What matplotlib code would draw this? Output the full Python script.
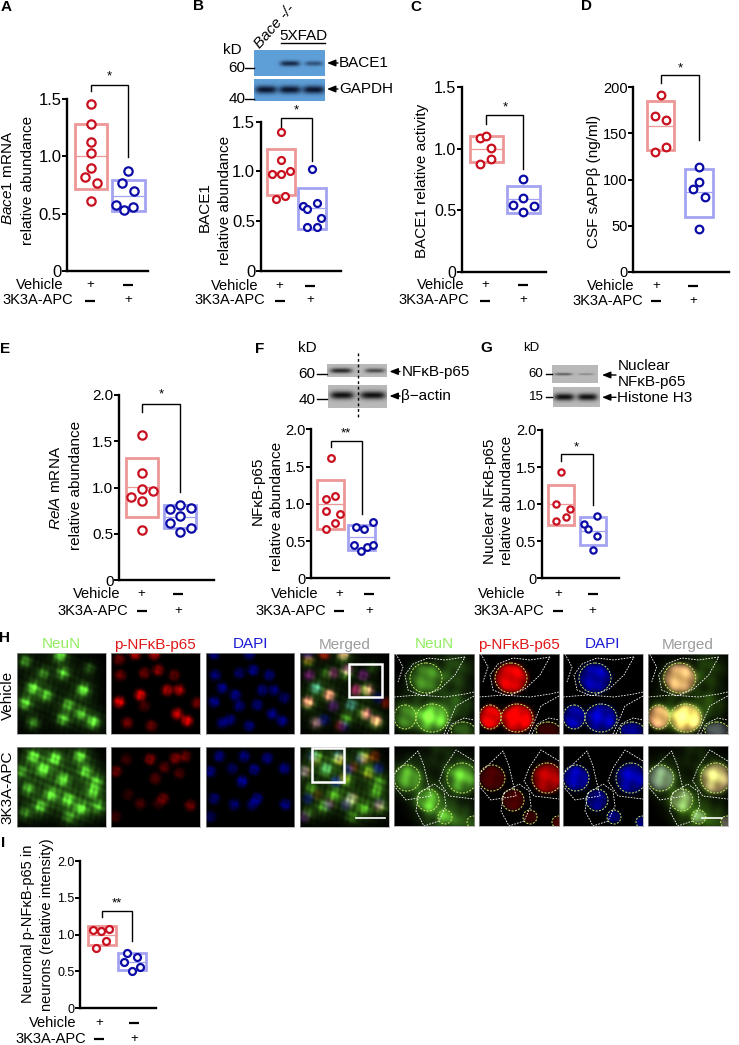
import numpy as np
import matplotlib
matplotlib.use("Agg")
import matplotlib.pyplot as plt
from matplotlib.colors import LinearSegmentedColormap
from matplotlib.patches import Rectangle, Ellipse

plt.rcParams["font.family"] = ["Liberation Sans", "DejaVu Sans"]
plt.rcParams["mathtext.fontset"] = "custom"
plt.rcParams["mathtext.rm"] = "Liberation Sans"
plt.rcParams["mathtext.it"] = "Liberation Sans:italic"

W, H = 739, 1045
RED, BLUE = "#c9101f", "#0b0ba6"
RED_BOX, BLUE_BOX = "#ee9797", "#a3a3f2"

# values: points, jitter (in group spacings), box (top, bottom, mean)
a_veh = [1.45, 1.277, 1.126, 1.024, 0.90, 0.82, 0.763, 0.61]
a_veh_off = [0, 0, 0, 0, 0, -0.15, 0.15, 0]
a_apc = [0.87, 0.77, 0.70, 0.574, 0.53, 0.56]
a_apc_off = [0, -0.16, 0.15, -0.33, -0.11, 0.12]
a_box = [(1.28, 0.71, 1.0), (0.79, 0.525, 0.653)]

b_veh = [1.40, 1.118, 0.978, 0.978, 1.0, 0.757, 0.723]
b_veh_off = [0, 0, -0.28, 0, 0.28, 0.14, -0.15]
b_apc = [1.028, 0.686, 0.656, 0.623, 0.536, 0.439, 0.442]
b_apc_off = [0, 0.16, -0.29, -0.14, 0.30, -0.14, 0.16]
b_box = [(1.225, 0.763, 0.998), (0.834, 0.425, 0.633)]

c_veh = [1.088, 1.104, 1.009, 0.914, 0.879]
c_veh_off = [-0.16, 0, 0.14, 0.14, -0.16]
c_apc = [0.757, 0.597, 0.545, 0.537, 0.486]
c_apc_off = [0, 0, -0.28, 0.28, 0]
c_box = [(1.104, 0.89, 0.998), (0.697, 0.477, 0.589)]

d_veh = [192, 169, 165, 135, 129.5]
d_veh_off = [0, -0.16, 0.14, 0.14, -0.16]
d_apc = [114, 97, 90, 81, 46]
d_apc_off = [0, 0, -0.16, 0.15, 0]
d_box = [(185, 131.6, 158.4), (111.4, 59.7, 86)]

e_veh = [1.568, 1.153, 0.987, 0.966, 0.897, 0.858, 0.541]
e_veh_off = [0, 0, 0, 0.28, -0.28, 0, 0]
e_apc = [0.81, 0.771, 0.778, 0.692, 0.616, 0.566, 0.519]
e_apc_off = [0, -0.26, 0.27, 0, -0.26, 0.27, 0]
e_box = [(1.315, 0.678, 1.002), (0.807, 0.559, 0.677)]

f_veh = [1.615, 1.11, 1.07, 0.904, 0.859, 0.738, 0.658]
f_veh_off = [0, 0.15, -0.14, -0.14, 0.29, 0.15, -0.14]
f_apc = [0.693, 0.658, 0.76, 0.447, 0.371, 0.416, 0.443]
f_apc_off = [-0.19, 0.08, 0.35, -0.25, -0.03, 0.18, 0.38]
f_box = [(1.32, 0.667, 0.993), (0.716, 0.376, 0.55)]

g_veh = [1.438, 0.998, 0.935, 0.827, 0.773]
g_veh_off = [0, -0.14, 0.28, 0.15, -0.14]
g_apc = [0.845, 0.733, 0.67, 0.566, 0.382]
g_apc_off = [0.14, -0.28, -0.15, 0.14, 0]
g_box = [(1.263, 0.724, 0.998), (0.822, 0.454, 0.643)]

i_veh = [1.068, 1.05, 1.081, 0.919, 0.814]
i_veh_off = [-0.29, -0.02, 0.23, 0.14, -0.2]
i_apc = [0.747, 0.701, 0.624, 0.561, 0.511]
i_apc_off = [-0.18, 0.18, -0.26, 0.26, 0]
i_box = [(1.122, 0.86, 0.991), (0.747, 0.52, 0.629)]

ticks_15 = [0, 0.5, 1.0, 1.5]
ticks_20 = [0, 0.5, 1.0, 1.5, 2.0]
ticks_200 = [0, 50, 100, 150, 200]
labels_15 = ["0", "0.5", "1.0", "1.5"]
labels_20 = ["0", "0.5", "1.0", "1.5", "2.0"]
labels_200 = ["0", "50", "100", "150", "200"]

# micrograph cells (u, v, amount) in panel pixels
veh_neun = [(43, 2, .9), (8, 8, .55), (26, 20, .45), (46, 20, .75), (16, 35, .95), (29, 42, .75), (66, 37, 1),
            (8, 50, .85), (51, 52, .65), (64, 61, .7), (76, 69, 1), (46, 66, .75), (16, 70, .5), (72, 15, .3)]
veh_red = [(8, 6, .45), (24, 1, .75), (43, 1, .75), (9, 22, .45), (33, 20, .45), (47, 17, .6), (63, 22, .4),
           (56, 37, .75), (68, 37, .75), (29, 42, 1), (8, 49, 1), (33, 53, .3), (66, 61, .9), (76, 68, 1),
           (16, 70, .5), (40, 73, .45), (86, 50, .5)]
veh_blue = [(8, 1, .6), (43, 1, .6), (9, 22, .6), (33, 20, .5), (47, 17, .7), (63, 22, .6), (16, 35, .7),
            (56, 37, .6), (68, 37, .6), (29, 42, .7), (8, 49, .7), (33, 53, .6), (51, 52, .6), (78, 45, .5),
            (66, 61, .7), (76, 68, .7), (16, 70, .6), (24, 67, .6), (43, 73, .6)]
apc_neun = [(16, 10, .85), (38, 12, .9), (63, 10, .8), (26, 23, .9), (46, 33, .8), (68, 25, .7), (79, 35, .6),
            (11, 42, .6), (34, 48, .8), (51, 53, .8), (76, 45, .7), (23, 60, .7), (81, 60, .6), (64, 62, .8),
            (4, 25, .5), (8, 66, .4), (52, 70, .45)]
apc_red = [(5, 25, .45), (15, 13, .25), (39, 13, .55), (64, 12, .55), (74, 10, .45), (53, 21, .35), (68, 27, .3),
           (44, 32, .35), (17, 48, .2), (52, 52, .45), (29, 57, .3), (79, 59, .45), (4, 70, .25), (47, 57, .2)]
apc_blue = [(4, 25, .65), (13, 10, .65), (38, 10, .65), (61, 12, .65), (78, 22, .65), (26, 22, .45), (48, 23, .65),
            (36, 35, .8), (8, 52, .55), (51, 52, .65), (28, 58, .55), (79, 58, .65), (4, 70, .45), (46, 58, .55)]

# zoomed cells: nucleus (u, v, rx, ry, neun, red, blue)
veh_zoom = [(32, 24, 16, 15, .35, .9, .8), (38, 64, 16, 14, .85, 1, .85),
            (11, 63, 11, 12, .3, .95, .8), (69, 76, 12, 8, .35, .2, .6)]
apc_zoom = [(13, 32, 13, 13, .4, .28, .8), (68, 32, 15, 15, .5, .7, .8),
            (34, 54, 11, 11, .45, .28, .6), (51, 71, 7, 7, .3, .2, .5), (79, 76, 6, 6, .2, .3, .6)]
veh_cells = [[(71, 3), (51, 6), (34, 4), (19, 10), (11, 21), (14, 36), (29, 42), (46, 35), (61, 21), (71, 3)],
             [(0, 43), (24, 41), (51, 43), (71, 40), (80, 38)], [(80, 42), (62, 52), (56, 66), (50, 80)],
             [(53, 80), (58, 70), (70, 64), (80, 66)], [(2, 0), (9, 13), (4, 28)]]
apc_cells = [[(0, 28), (24, 5), (30, 20), (37, 50), (12, 54), (0, 40)],
             [(80, 15), (62, 4), (50, 22), (45, 35), (55, 50), (80, 53)],
             [(25, 47), (40, 38), (50, 45), (52, 60), (45, 75), (30, 80), (22, 65), (25, 47)]]

fig = plt.figure(figsize=(W / 100, H / 100), dpi=100)
over = fig.add_axes([0, 0, 1, 1], zorder=10)
over.set_xlim(0, W)
over.set_ylim(H, 0)
over.axis("off")
over.patch.set_alpha(0)


def px_axes(x0, ytop, x1, ybot, zorder=1):
    return fig.add_axes([x0 / W, 1 - ybot / H, (x1 - x0) / W, (ybot - ytop) / H], zorder=zorder)


def txt(x, y, s, size=11, ha="left", **kw):
    over.text(x, y, s, fontsize=size, ha=ha, va="center", **kw)


def arrow(x_tail, x_tip, y):
    over.annotate("", xy=(x_tip, y), xytext=(x_tail, y),
                  arrowprops=dict(arrowstyle="-|>,head_width=0.2,head_length=0.5", lw=1, color="black",
                                  shrinkA=0, shrinkB=0))


def scatter_panel(box, cx, ymax, ticks, ticklabels, veh, veh_off, apc, apc_off, boxes, half, bracket, stars,
                  star_y, ylines, signs, tick_size=11, ms=5.5, ylabel_size=11):
    """box = pixel frame of the axes, cx = pixel centres of both groups"""
    x0, ytop, x1, ybot = box
    ax = px_axes(*box)
    sp = cx[1] - cx[0]
    ax.set_xlim(1 - (cx[0] - x0) / sp, 2 + (x1 - cx[1]) / sp)
    ax.set_ylim(0, ymax)
    for pos, (top, bottom, mean), edge in zip([1, 2], boxes, [RED_BOX, BLUE_BOX]):
        ax.add_patch(Rectangle((pos - half, bottom), 2 * half, top - bottom, fill=False, ec=edge, lw=2))
        ax.plot([pos - half, pos + half], [mean, mean], color=edge, lw=0.9)
    ax.plot(1 + np.array(veh_off), veh, "o", ms=ms, mfc="white", mec=RED, mew=1.6, clip_on=False, zorder=4)
    ax.plot(2 + np.array(apc_off), apc, "o", ms=ms, mfc="white", mec=BLUE, mew=1.6, clip_on=False, zorder=4)
    ax.plot([1, 1, 2, 2], [bracket[0], bracket[1], bracket[1], bracket[2]], color="black", lw=1,
            clip_on=False, solid_joinstyle="miter")
    ax.text(1.5, star_y, stars, fontsize=9.5, ha="center", va="center", clip_on=False)
    ax.set_xticks([])
    ax.set_yticks(ticks)
    ax.set_yticklabels(ticklabels, fontsize=tick_size)
    ax.tick_params(axis="y", length=3.5, width=1.4, pad=0.5)
    ax.spines["top"].set_visible(False)
    ax.spines["right"].set_visible(False)
    ax.spines["left"].set_linewidth(1.7)
    ax.spines["bottom"].set_linewidth(1.7)
    ax.patch.set_alpha(0)
    for x, y, s in ylines:
        txt(x, y, s, size=ylabel_size, ha="center", rotation=90, rotation_mode="anchor")
    veh_end, apc_end, y1, y2, sx = signs
    txt(veh_end, y1, "Vehicle", size=10.5, ha="right")
    txt(apc_end, y2, "3K3A-APC", size=10.5, ha="right")
    txt(sx[0], y1, "+", size=9.5, ha="center")
    txt(sx[1], y2, "+", size=9.5, ha="center")
    over.plot([sx[1] - 5, sx[1] + 5], [y1, y1], color="black", lw=1.6, solid_capstyle="butt")
    over.plot([sx[0] - 5, sx[0] + 5], [y2, y2], color="black", lw=1.6, solid_capstyle="butt")


scatter_panel((67, 98.7, 148, 271), (91, 128.3), 1.5, ticks_15, labels_15, a_veh, a_veh_off, a_apc, a_apc_off,
              a_box, 0.44, (1.57, 1.62, 0.995), "*", 1.69,
              [(8.5, 178, r"$\mathit{Bace1}$ mRNA"), (28, 180, "relative abundance")],
              (63, 73, 285, 300.5, (90, 128)), tick_size=12, ms=6)
scatter_panel((260.7, 121.7, 340.7, 271), (281, 311.7), 1.5, ticks_15, labels_15, b_veh, b_veh_off, b_apc, b_apc_off,
              b_box, 0.45, (1.45, 1.54, 1.11), "*", 1.61,
              [(205, 207, "BACE1"), (225, 200, "relative abundance")],
              (258, 265, 285.5, 300.5, (279.5, 310)), tick_size=12, ms=5)
scatter_panel((461.7, 87.3, 546, 271.7), (486.3, 523.3), 1.5, ticks_15, labels_15, c_veh, c_veh_off, c_apc, c_apc_off,
              c_box, 0.45, (1.20, 1.275, 0.833), "*", 1.34,
              [(421.7, 181, "BACE1 relative activity")],
              (464, 469, 285, 300.5, (485, 523)), tick_size=11.5)
scatter_panel((633.3, 87.3, 729.3, 271.7), (660.7, 699), 200, ticks_200, labels_200, d_veh, d_veh_off, d_apc, d_apc_off,
              d_box, 0.36, (205, 213, 143), "*", 221,
              [(594, 181.7, "CSF sAPPβ (ng/ml)")],
              (634, 642.7, 286, 301, (656, 693)), tick_size=10.5)
scatter_panel((119, 395, 214, 580), (141.7, 180.3), 2.0, ticks_20, labels_20, e_veh, e_veh_off, e_apc, e_apc_off,
              e_box, 0.41, (1.82, 1.903, 0.955), "*", 2.01,
              [(56, 487.5, r"$\mathit{RelA}$ mRNA"), (76, 485, "relative abundance")],
              (120, 128, 594, 610.7, (141.5, 178)), ms=6)
scatter_panel((311, 429.3, 388.7, 578.3), (330.7, 361.7), 2.0, ticks_20, labels_20, f_veh, f_veh_off, f_apc, f_apc_off,
              f_box, 0.44, (1.763, 1.848, 0.863), "**", 1.95,
              [(258, 491, "NFκB-p65"), (276.7, 506, "relative abundance")],
              (318, 326, 594, 610.7, (339, 369)), tick_size=10.5, ms=4.8)
scatter_panel((541.7, 430, 619, 578.3), (560.7, 592.7), 2.0, ticks_20, labels_20, g_veh, g_veh_off, g_apc, g_apc_off,
              g_box, 0.41, (1.582, 1.676, 0.989), "*", 1.77,
              [(490, 501, "Nuclear NFκB-p65"), (507, 500.7, "relative abundance")],
              (525, 544.3, 594.3, 610.7, (558, 592.5)), tick_size=10.5, ms=4.5)
scatter_panel((80.3, 861, 156, 1008.3), (102, 132), 2.0, ticks_20, labels_20, i_veh, i_veh_off, i_apc, i_apc_off,
              i_box, 0.46, (1.244, 1.321, 0.919), "**", 1.42,
              [(28, 924, "Neuronal p-NFκB-p65 in"), (46.7, 925, "neurons (relative intensity)")],
              (76, 86, 1023, 1039, (99, 134)), tick_size=9, ms=5, ylabel_size=10.5)

for x, y, s in [(6, 7, "A"), (198, 6, "B"), (415.7, 6.7, "C"), (586, 6, "D"), (5, 349, "E"), (260, 349, "F"),
                (486.7, 348, "G"), (5, 638, "H"), (3, 843, "I")]:
    txt(x, y, s, size=11, ha="center", fontweight="bold")


# western blots
def blot(box, bands, bg, dark):
    x0, ytop, x1, ybot = box
    ax = px_axes(*box)
    xx, yy = np.meshgrid(np.linspace(x0, x1, 140), np.linspace(ytop, ybot, 60))
    field = np.zeros_like(xx)
    for bx, by, w, h, amount in bands:
        field += amount * np.exp(-((xx - bx) / w) ** 4 - ((yy - by) / h) ** 2)
    cmap = LinearSegmentedColormap.from_list("blot", [bg, dark])
    ax.imshow(np.clip(field, 0, 1), cmap=cmap, vmin=0, vmax=1, aspect="auto", extent=(x0, x1, ybot, ytop))
    ax.axis("off")


BLUE_BG, BLUE_DARK = "#5f9fd8", "#0b1630"
GRAY_BG, GRAY_DARK = "#b9b9b9", "#101010"
blot((254, 50, 325, 76), [(290, 63.5, 10, 2.8, .85), (314, 63.5, 9, 2.5, .55)], BLUE_BG, BLUE_DARK)
blot((254, 79, 325, 100.7), [(266, 89.5, 11, 4, 1), (290, 89.5, 11, 4, 1), (314, 89.5, 11, 4, 1)], BLUE_BG, BLUE_DARK)
blot((327, 364, 387, 376.7), [(341, 370.5, 11, 2.5, .85), (375, 370.5, 10, 2.2, .65)], GRAY_BG, GRAY_DARK)
blot((328, 385.3, 387, 408.3), [(342, 395.5, 12, 4, 1), (373, 395.5, 13, 4, 1)], GRAY_BG, GRAY_DARK)
blot((552.3, 365, 598.3, 382.7), [(563.5, 374, 9, 1.3, .55), (586.5, 374, 8, 1, .3)], GRAY_BG, GRAY_DARK)
blot((553, 387.3, 599.3, 406.7), [(564, 397, 10, 3.5, 1), (587, 397, 10, 3.5, 1)], GRAY_BG, GRAY_DARK)

txt(257, 46, "Bace -/-", style="italic", rotation=49, rotation_mode="anchor")
txt(303, 35.5, "5XFAD", ha="center")
over.plot([281, 325], [42.8, 42.8], color="black", lw=1)
txt(232, 50.5, "kD", ha="center")
txt(237, 68, "60", ha="center")
txt(237, 99, "40", ha="center")
over.plot([245, 254], [68, 68], color="black", lw=1)
over.plot([245, 254], [99, 99], color="black", lw=1)
arrow(338, 327, 63)
txt(339, 63, "BACE1")
arrow(338, 327, 89)
txt(339, 89, "GAPDH")

txt(307.5, 348.5, "kD", ha="center")
txt(307, 374, "60", ha="center")
txt(307, 400, "40", ha="center")
over.plot([317, 327], [374, 374], color="black", lw=1)
over.plot([317, 327], [399, 399], color="black", lw=1)
over.plot([357.7, 357.7], [353, 418], color="black", lw=1, ls=(0, (2, 2)))
arrow(400, 389.5, 371.5)
txt(401.5, 372, "NFκB-p65")
arrow(400, 389.5, 396)
txt(401.5, 396, "β−actin")

txt(531.5, 348, "kD", size=9.5, ha="center")
txt(536, 374, "60", size=9.5, ha="center")
txt(536, 397, "15", size=9.5, ha="center")
over.plot([546, 552], [374, 374], color="black", lw=1)
over.plot([546, 552], [397, 397], color="black", lw=1)
arrow(616, 602, 375)
txt(617.3, 366, "Nuclear")
txt(617.3, 382.3, "NFκB-p65")
arrow(616, 602, 397.3)
txt(617.3, 397.5, "Histone H3")


# micrographs
def spots(xx, yy, cells, r, power=2.0):
    field = np.zeros_like(xx)
    for u, v, amount in cells:
        d = np.hypot(xx - u, yy - v) / r
        field += amount * np.exp(-d ** (2 * power))
    return field


def texture(xx, yy):
    # fixed mottling, several directions so no grid shows
    t = (np.sin(0.83 * xx + 0.37 * yy) + np.sin(-0.41 * xx + 0.97 * yy + 1.3)
         + np.sin(0.29 * xx - 0.71 * yy + 2.1) + np.sin(1.21 * xx + 0.13 * yy + 0.6))
    return 0.82 + 0.07 * t


def micro(box, rgb):
    ax = px_axes(*box)
    ax.imshow(np.clip(rgb, 0, 1), aspect="auto", extent=(0, box[2] - box[0], box[3] - box[1], 0),
              interpolation="bilinear")
    ax.set_xticks([])
    ax.set_yticks([])
    for s in ax.spines.values():
        s.set_color("#a0a0a0")
        s.set_linewidth(0.5)
    return ax


def wide_row(ytop, ybot, neun, red, blue, haze):
    pw, ph = 88.5, ybot - ytop
    xx, yy = np.meshgrid(np.linspace(0, pw, 177), np.linspace(0, ph, 160))
    tex = texture(xx, yy)
    g = tex * (0.85 * spots(xx, yy, neun, 5.5, 1.2) + haze * spots(xx, yy, neun, 11, 0.8))
    r = tex * spots(xx, yy, red, 5.5, 1.5)
    b = tex * 0.85 * spots(xx, yy, blue, 5.5, 1.5)
    zero = np.zeros_like(g)
    green_img = np.dstack([0.45 * g, 1.05 * g, 0.25 * g])
    red_img = np.dstack([r, zero, zero])
    blue_img = np.dstack([zero, zero, b])
    merged = np.dstack([0.35 * g + 0.85 * r, 0.75 * g + 0.1 * r, 0.15 * g + 0.75 * b])
    for (x0, x1), img in zip([(17.3, 105.7), (111.3, 200), (205.7, 294.3), (300, 389)],
                             [green_img, red_img, blue_img, merged]):
        micro((x0, ytop, x1, ybot), img)


def zoom_row(ytop, ybot, nuclei, haze_cells, outlines):
    pw, ph = 80, ybot - ytop
    xx, yy = np.meshgrid(np.linspace(0, pw, 160), np.linspace(0, ph, 160))
    tex = texture(xx / 2.5, yy / 2.5)
    g = np.zeros_like(xx)
    r = np.zeros_like(xx)
    b = np.zeros_like(xx)
    for u, v, rx, ry, n, red, blue in nuclei:
        d = np.hypot((xx - u) / rx, (yy - v) / ry)
        g += n * np.exp(-d ** 4)
        r += red * np.exp(-d ** 6)
        b += blue * np.exp(-d ** 6)
    g = tex * (g + spots(xx, yy, haze_cells, 17, 1.1) * 0.42)
    r = r * (0.3 + 0.85 * tex)
    b = b * tex
    zero = np.zeros_like(g)
    panels = [np.dstack([0.5 * g, 1.0 * g, 0.25 * g]), np.dstack([r, zero, zero]), np.dstack([zero, zero, b]),
              np.dstack([0.45 * g + 0.75 * r, 0.85 * g + 0.3 * r, 0.15 * g + 0.55 * b])]
    for (x0, x1), img in zip([(394, 474), (479, 559), (563, 643), (647.7, 727.7)], panels):
        ax = micro((x0, ytop, x1, ybot), img)
        for line in outlines:
            arr = np.array(line)
            ax.plot(arr[:, 0], arr[:, 1], color="white", lw=0.6, ls=(0, (2, 1.5)))
        for u, v, rx, ry, *_ in nuclei:
            ax.add_patch(Ellipse((u, v), 2 * rx, 2 * ry, fill=False, ec="#c9ef6a", lw=0.7, ls=(0, (2, 1.5))))
        ax.set_xlim(0, pw)
        ax.set_ylim(ph, 0)


wide_row(653, 734, veh_neun, veh_red, veh_blue, 0.3)
wide_row(746.7, 826.7, apc_neun, apc_red, apc_blue, 0.45)
zoom_row(654, 733.7, veh_zoom, [(60, 15, .8), (60, 50, .9), (30, 25, .8), (15, 60, .9), (38, 64, .5)], veh_cells)
zoom_row(746, 825.7, apc_zoom, [(15, 30, 1), (65, 30, 1), (35, 55, 1), (50, 72, 1), (45, 5, .4), (70, 75, .6)], apc_cells)

for xs in [(61.5, 155, 250, 344.5), (434, 519, 603, 687.7)]:
    for x, s, col in zip(xs, ["NeuN", "p-NFκB-p65", "DAPI", "Merged"], ["#93ee62", "#e01818", "#1a1ad8", "#9c9c9c"]):
        txt(x, 644.5, s, ha="center", color=col)
txt(7.5, 695, "Vehicle", ha="center", rotation=90, rotation_mode="anchor")
txt(7.5, 787, "3K3A-APC", ha="center", rotation=90, rotation_mode="anchor")
over.add_patch(Rectangle((349, 664), 32.7, 33.3, fill=False, ec="white", lw=1.8))
over.add_patch(Rectangle((311.7, 748), 32.6, 33.7, fill=False, ec="white", lw=1.8))
over.plot([356, 385], [818, 818], color="white", lw=1.2)
over.plot([701.7, 722.3], [818.3, 818.3], color="white", lw=1.2)

fig.savefig("out.png", dpi=100)
